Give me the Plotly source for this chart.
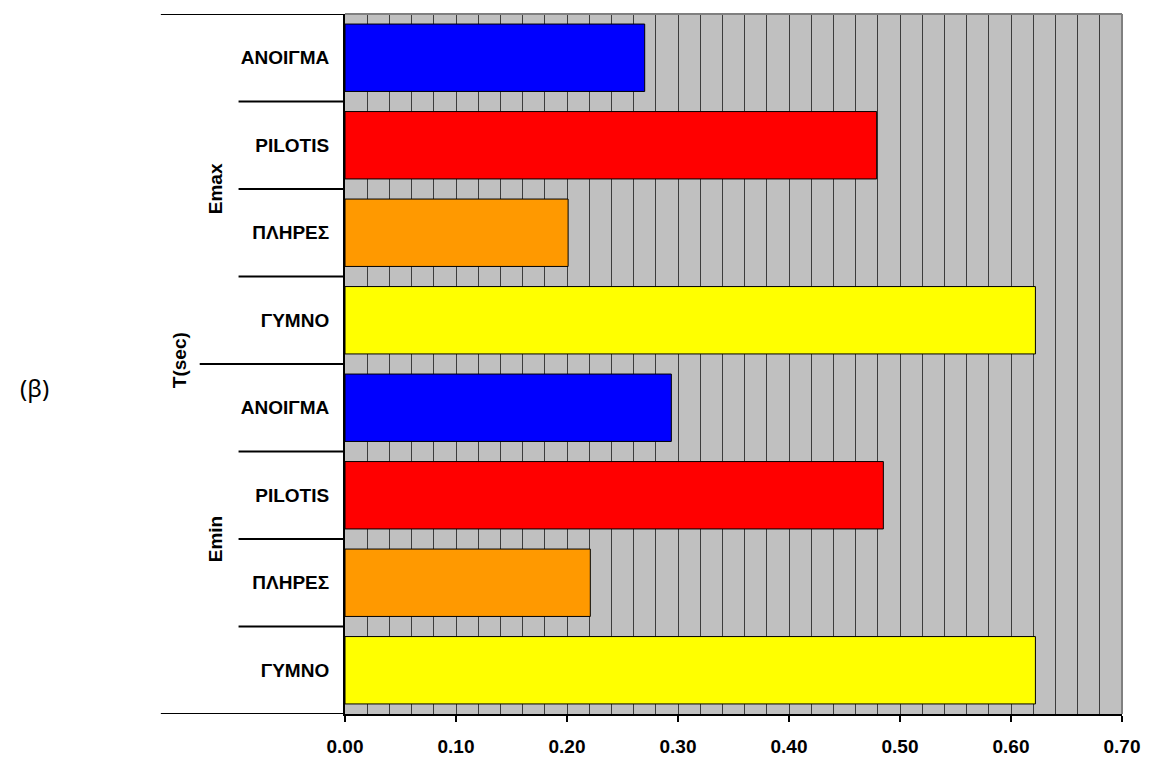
import plotly.graph_objects as go

# Period T(sec) per wall configuration, for the Emax and Emin cases
groups = ["Emax", "Emax", "Emax", "Emax", "Emin", "Emin", "Emin", "Emin"]
configs = ["ΑΝΟΙΓΜΑ", "PILOTIS", "ΠΛΗΡΕΣ", "ΓΥΜΝΟ", "ΑΝΟΙΓΜΑ", "PILOTIS", "ΠΛΗΡΕΣ", "ΓΥΜΝΟ"]
periods = [0.270, 0.479, 0.201, 0.622, 0.294, 0.485, 0.221, 0.622]
bar_colors = ["#0000FF", "#FF0000", "#FF9900", "#FFFF00", "#0000FF", "#FF0000", "#FF9900", "#FFFF00"]
x_ticks = [0.0, 0.1, 0.2, 0.3, 0.4, 0.5, 0.6, 0.7]
x_ticklabels = ["0.00", "0.10", "0.20", "0.30", "0.40", "0.50", "0.60", "0.70"]

keys = [f"{g}|{c}" for g, c in zip(groups, configs)]

FONT = "Liberation Sans, Arial, sans-serif"
FS = 19

fig = go.Figure(
    go.Bar(
        x=periods,
        y=keys,
        orientation="h",
        marker=dict(color=bar_colors, line=dict(color="black", width=1)),
        width=0.77,
        hoverinfo="x",
    )
)

fig.update_layout(
    width=1152,
    height=758,
    margin=dict(l=345, r=30, t=14, b=44),
    paper_bgcolor="white",
    plot_bgcolor="#C0C0C0",
    showlegend=False,
    font=dict(family=FONT, size=FS, color="black"),
)

fig.update_xaxes(
    range=[0, 0.7],
    tickvals=x_ticks,
    ticktext=x_ticklabels,
    tickfont=dict(family=FONT, size=FS, color="black", weight="bold"),
    ticks="outside",
    ticklen=6,
    tickwidth=1.5,
    tickcolor="black",
    ticklabelstandoff=8,
    showline=True,
    linecolor="black",
    linewidth=2,
    showgrid=True,
    gridcolor="#3C3C3C",
    gridwidth=1,
    minor=dict(dtick=0.02, showgrid=True, gridcolor="#3C3C3C", gridwidth=1),
    zeroline=False,
    automargin=False,
)

fig.update_yaxes(
    type="category",
    categoryorder="array",
    categoryarray=keys,
    range=[7.5, -0.5],
    tickvals=keys,
    ticktext=configs,
    tickfont=dict(family=FONT, size=FS, color="black", weight="bold"),
    ticks="",
    ticklabelstandoff=10,
    showline=True,
    linecolor="black",
    linewidth=2,
    showgrid=False,
    zeroline=False,
    automargin=False,
)

shapes = []
# grey frame on the top and right of the plotting area
shapes.append(dict(type="line", xref="paper", yref="paper", x0=0, x1=1, y0=1, y1=1,
                   line=dict(color="#808080", width=2)))
shapes.append(dict(type="line", xref="paper", yref="paper", x0=1, x1=1, y0=0, y1=1,
                   line=dict(color="#808080", width=2)))
# separators between category rows on the left
for yb in [0.5, 1.5, 2.5, 4.5, 5.5, 6.5]:
    shapes.append(dict(type="line", xref="paper", yref="y", x0=-0.137, x1=0, y0=yb, y1=yb,
                       line=dict(color="black", width=2)))
for yb, x0 in [(-0.5, -0.237), (3.5, -0.187), (7.5, -0.237)]:
    shapes.append(dict(type="line", xref="paper", yref="y", x0=x0, x1=0, y0=yb, y1=yb,
                       line=dict(color="black", width=2)))
fig.update_layout(shapes=shapes)

annotations = [
    dict(text="<b>Emax</b>", xref="paper", yref="y", x=-0.167, y=1.5, showarrow=False,
         xanchor="center", yanchor="middle", textangle=-90, font=dict(family=FONT, size=FS)),
    dict(text="<b>Emin</b>", xref="paper", yref="y", x=-0.167, y=5.5, showarrow=False,
         xanchor="center", yanchor="middle", textangle=-90, font=dict(family=FONT, size=FS)),
    dict(text="<b>T(sec)</b>", xref="paper", yref="y", x=-0.213, y=3.45, showarrow=False,
         xanchor="center", yanchor="middle", textangle=-90, font=dict(family=FONT, size=FS)),
    dict(text="(β)", xref="paper", yref="paper", x=-0.40, y=0.466, showarrow=False,
         xanchor="center", yanchor="middle", font=dict(family="Noto Sans, sans-serif", size=24)),
]
fig.update_layout(annotations=annotations)

fig.write_html("out.html")
